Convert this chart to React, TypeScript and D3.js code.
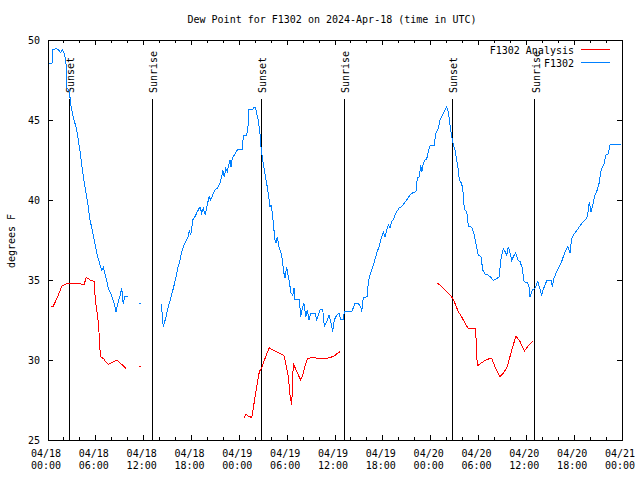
import React from "react";
import * as d3 from "d3";

// ---- data (hours since 2024-04-18 00:00 UTC, dew point °F) ----
const blueSeg1: [number, number][] = [
  [0.0, 48.55], [0.5, 48.55], [0.6, 49.4], [1.0, 49.45], [1.3, 49.4], [1.6, 49.2], [1.8, 49.4], [2.0, 49.2],
  [2.2, 48.8], [2.3, 48.3], [2.35, 47.0], [2.6, 46.9], [2.75, 46.5], [2.8, 46.1], [3.15, 45.2], [3.6, 44.4],
  [4.0, 43.1], [4.3, 41.9], [4.64, 40.8], [4.98, 39.8], [5.27, 38.75], [5.56, 38.1], [5.8, 37.5], [6.11, 36.7],
  [6.44, 36.1], [6.74, 35.6], [6.94, 35.8], [7.24, 35.2], [7.57, 34.5], [7.99, 34.0], [8.32, 33.5], [8.53, 33.0],
  [8.74, 33.5], [9.03, 34.0], [9.24, 34.5], [9.44, 33.5], [9.65, 34.0], [10.0, 34.0],
];
const blueLone: [number, number][] = [[11.54, 33.54]];
const blueSeg2: [number, number][] = [
  [14.17, 33.5], [14.3, 33.02], [14.46, 32.04], [14.59, 32.3], [14.8, 32.7], [15.09, 33.33], [15.39, 33.85],
  [15.72, 34.48], [16.02, 35.1], [16.27, 35.73], [16.56, 36.25], [16.77, 36.77], [17.06, 37.19], [17.4, 37.5],
  [17.6, 37.71], [17.72, 38.13], [17.9, 37.8], [18.03, 38.23], [18.15, 38.75], [18.44, 38.96], [18.73, 39.27],
  [19.07, 39.58], [19.28, 39.17], [19.48, 39.48], [19.73, 39.06], [19.98, 39.69], [20.2, 40.21], [20.41, 40.0],
  [20.66, 40.31], [20.95, 40.63], [21.24, 40.73], [21.58, 41.04], [21.79, 41.46], [21.91, 41.88], [22.12, 41.42],
  [22.29, 41.98], [22.49, 41.77], [22.67, 42.19], [22.83, 42.5], [22.96, 42.08], [23.12, 42.6], [23.37, 42.81],
  [23.58, 43.02], [23.87, 43.17], [24.37, 43.17], [24.5, 44.0], [24.92, 44.06], [25.13, 44.79], [25.21, 45.63],
  [25.63, 45.63], [25.75, 45.73], [25.97, 45.83], [26.09, 45.63], [26.25, 45.2], [26.38, 45.0], [26.59, 44.17],
  [26.72, 43.33], [26.88, 42.7], [27.13, 41.88], [27.43, 41.04], [27.63, 40.42], [27.85, 39.58], [27.97, 39.69],
  [28.14, 39.17], [28.26, 38.54], [28.47, 37.5], [28.6, 37.29], [28.76, 37.71], [28.98, 37.08], [29.23, 36.67],
  [29.39, 36.25], [29.6, 35.42], [29.73, 35.1], [29.94, 35.83], [30.07, 35.42], [30.27, 34.9], [30.48, 34.17],
  [30.7, 34.06], [30.86, 34.48], [30.98, 33.79], [31.52, 33.79], [31.7, 32.7], [31.9, 33.23], [32.11, 33.54],
  [32.33, 32.7], [32.53, 33.13], [32.74, 32.5], [32.95, 32.92], [33.49, 32.92], [33.71, 32.5], [34.12, 33.13],
  [34.46, 33.17], [34.66, 32.08], [34.96, 32.4], [35.25, 32.81], [35.5, 32.29], [35.71, 31.77], [35.91, 32.5],
  [36.21, 32.81], [36.5, 32.92], [36.75, 32.5], [37.04, 32.54], [37.17, 33.02], [38.1, 33.02], [38.51, 33.54],
  [38.92, 33.54], [39.22, 33.33], [39.35, 33.02], [39.55, 33.9], [40.05, 33.96], [40.18, 34.9], [40.39, 35.31],
  [40.68, 35.73], [40.93, 36.15], [41.23, 36.67], [41.52, 37.08], [41.77, 37.56], [42.06, 38.02], [42.27, 37.71],
  [42.49, 38.13], [42.69, 38.44], [42.9, 38.23], [43.11, 38.65], [43.31, 38.75], [43.53, 39.06], [43.74, 39.27],
  [44.07, 39.52], [44.37, 39.58], [44.66, 39.79], [44.99, 40.0], [45.41, 40.31], [45.82, 40.48], [46.16, 40.52],
  [46.32, 41.35], [46.57, 41.46], [46.75, 42.19], [46.88, 41.73], [47.08, 42.29], [47.29, 42.5], [47.5, 42.56],
  [47.7, 43.02], [47.92, 43.4], [48.42, 43.4], [48.67, 44.17], [48.96, 44.48], [49.17, 45.0], [49.39, 45.2],
  [49.59, 45.42], [49.8, 45.63], [50.01, 45.83], [50.21, 45.52], [50.43, 44.69], [50.64, 43.96], [50.84, 43.44],
  [51.05, 43.13], [51.27, 42.5], [51.47, 41.88], [51.59, 41.25], [51.89, 41.04], [52.09, 40.42], [52.22, 39.42],
  [52.52, 39.27], [52.72, 38.38], [53.15, 38.29], [53.47, 37.81], [53.78, 36.98], [53.98, 36.56], [54.31, 36.46],
  [54.53, 35.63], [54.82, 35.38], [55.23, 35.31], [55.66, 35.1], [55.86, 34.96], [56.07, 35.04], [56.57, 35.17],
  [56.82, 36.29], [57.11, 36.98], [57.33, 36.77], [57.54, 36.56], [57.74, 37.08], [57.95, 36.71], [58.17, 36.21],
  [58.37, 36.46], [58.67, 36.71], [58.92, 36.25], [59.21, 36.15], [59.5, 35.73], [59.71, 34.9], [60.17, 34.83],
  [60.34, 34.58], [60.46, 33.96], [60.75, 34.38], [61.09, 34.48], [61.43, 34.9], [61.63, 34.58], [61.93, 34.06],
  [62.13, 34.42], [62.56, 34.96], [63.1, 34.96], [63.26, 34.58], [63.47, 35.1], [63.72, 35.42], [64.01, 35.73],
  [64.35, 36.04], [64.64, 36.46], [64.85, 36.77], [65.19, 37.08], [65.48, 36.67], [65.69, 37.6], [65.89, 37.81],
  [66.23, 38.02], [66.52, 38.23], [66.82, 38.44], [67.15, 38.65], [67.57, 38.85], [67.78, 39.38], [67.9, 39.9],
  [68.11, 39.27], [68.33, 39.69], [68.61, 40.31], [68.9, 40.63], [69.12, 41.04], [69.33, 41.77], [69.46, 41.98],
  [69.78, 42.29], [69.96, 42.81], [70.29, 42.88], [70.5, 43.44], [71.88, 43.44],
];

const redSeg1: [number, number][] = [
  [0.38, 33.33], [0.66, 33.37], [0.88, 33.6], [1.29, 34.06], [1.72, 34.6], [2.13, 34.73], [2.55, 34.79],
  [4.01, 34.79], [4.23, 34.73], [4.55, 34.73], [4.77, 35.14], [5.06, 35.1], [5.27, 35.0], [5.6, 34.94],
  [5.81, 34.9], [5.93, 33.75], [6.18, 32.9], [6.36, 32.08], [6.44, 31.35], [6.52, 30.63], [6.65, 30.17],
  [6.94, 30.1], [7.24, 29.9], [7.56, 29.73], [7.99, 29.83], [8.62, 30.0], [9.03, 29.83], [9.44, 29.63], [9.75, 29.48],
];
const redLone: [number, number][] = [[11.54, 29.58]];
const redSeg2: [number, number][] = [
  [24.62, 26.4], [24.8, 26.6], [25.13, 26.5], [25.55, 26.4], [25.75, 26.98], [25.97, 27.7], [26.18, 28.33],
  [26.51, 29.27], [26.81, 29.54], [27.31, 30.21], [27.76, 30.77], [28.06, 30.67], [28.47, 30.56], [29.1, 30.42],
  [29.6, 30.27], [29.73, 30.0], [30.14, 28.96], [30.36, 27.81], [30.57, 27.19], [30.77, 29.79], [30.98, 29.54],
  [31.4, 29.06], [31.7, 28.75], [31.95, 29.06], [32.24, 29.63], [32.58, 30.1], [33.08, 30.15], [34.03, 30.1],
  [34.96, 30.1], [35.37, 30.15], [35.91, 30.25], [36.21, 30.38], [36.63, 30.52],
];
const redSeg3: [number, number][] = [
  [48.76, 34.83], [49.17, 34.69], [49.8, 34.38], [50.43, 34.06], [50.76, 33.85], [51.05, 33.54], [51.47, 33.02],
  [51.89, 32.7], [52.31, 32.29], [52.72, 31.98], [53.56, 31.98], [53.69, 31.35], [53.85, 29.63], [54.4, 29.83],
  [55.03, 30.04], [55.66, 30.1], [56.07, 29.58], [56.7, 28.96], [57.11, 29.17], [57.61, 29.58], [58.17, 30.63],
  [58.71, 31.5], [59.21, 31.15], [59.75, 30.56], [60.25, 30.88], [60.88, 31.21],
];

const sunHours = [2.65, 13.06, 26.74, 37.17, 50.72, 61.08];
const sunLabels = ["Sunset", "Sunrise", "Sunset", "Sunrise", "Sunset", "Sunrise"];
const yTicks = [25, 30, 35, 40, 45, 50];
const legendLabels = ["F1302 Analysis", "F1302"];
const title = "Dew Point for F1302 on 2024-Apr-18 (time in UTC)";
const yLabel = "degrees F";

const START = Date.UTC(2024, 3, 18, 0, 0);
const END = Date.UTC(2024, 3, 21, 0, 0);
const toDate = (h: number) => new Date(START + h * 3600e3);

const RED = "#ff0000";
const BLUE = "#0080ff";
const FONT = "'DejaVu Sans Mono', 'Liberation Mono', monospace";

export default function App() {
  const L = 48, R = 622, T = 40, B = 440;
  const x = d3.scaleUtc().domain([new Date(START), new Date(END)]).range([L, R]);
  const y = d3.scaleLinear().domain([25, 50]).range([B, T]);
  const line = d3
    .line<[number, number]>()
    .x((d) => x(toDate(d[0])))
    .y((d) => y(d[1]));

  const majorTicks = x.ticks(d3.utcHour.every(6)!);
  const minorTicks = x.ticks(d3.utcHour.every(2)!);
  const fmtDate = d3.utcFormat("%m/%d");
  const fmtTime = d3.utcFormat("%H:%M");

  const lone = (pts: [number, number][], color: string) =>
    pts.map((d, i) => (
      <line key={i} x1={x(toDate(d[0])) - 0.5} x2={x(toDate(d[0])) + 1.5}
        y1={y(d[1])} y2={y(d[1])} stroke={color} strokeWidth={1} />
    ));

  return (
    <div style={{ position: "fixed", left: 0, top: 0 }}>
      <svg width={640} height={480} style={{ display: "block", background: "#fff" }} fontFamily={FONT} fontSize={10}>
        <rect x={0} y={0} width={640} height={480} fill="#fff" />
        {/* title */}
        <text x={332} y={23} textAnchor="middle" fill="#000">{title}</text>
        {/* y label */}
        <text transform="translate(15,241) rotate(-90)" textAnchor="middle" fill="#000">{yLabel}</text>

        {/* x ticks */}
        <g shapeRendering="crispEdges" stroke="#000">
          {minorTicks.map((t, i) => (
            <g key={"m" + i}>
              <line x1={x(t)} x2={x(t)} y1={B} y2={B - 3} />
              <line x1={x(t)} x2={x(t)} y1={T} y2={T + 3} />
            </g>
          ))}
          {majorTicks.map((t, i) => (
            <g key={"M" + i}>
              <line x1={x(t)} x2={x(t)} y1={B} y2={B - 5} />
              <line x1={x(t)} x2={x(t)} y1={T} y2={T + 5} />
            </g>
          ))}
          {yTicks.map((v, i) => (
            <g key={"y" + i}>
              <line x1={L} x2={L + 5} y1={y(v)} y2={y(v)} />
              <line x1={R} x2={R - 5} y1={y(v)} y2={y(v)} />
            </g>
          ))}
        </g>
        {majorTicks.map((t, i) => (
          <g key={"xl" + i}>
            <text x={x(t) - 2} y={457} textAnchor="middle" fill="#000">{fmtDate(t)}</text>
            <text x={x(t) - 2} y={469} textAnchor="middle" fill="#000">{fmtTime(t)}</text>
          </g>
        ))}
        {yTicks.map((v, i) => (
          <text key={"yl" + i} x={40} y={y(v) + 3.5} textAnchor="end" fill="#000">{v}</text>
        ))}

        {/* sunrise / sunset */}
        {sunHours.map((h, i) => {
          const sx = x(toDate(h));
          return (
            <g key={"s" + i}>
              <line x1={sx} x2={sx} y1={99} y2={B} stroke="#000" strokeWidth={1} shapeRendering="crispEdges" />
              <text transform={`translate(${sx + 5},93) rotate(-90)`} textAnchor="start" fill="#000">{sunLabels[i]}</text>
            </g>
          );
        })}

        {/* data */}
        <g fill="none" strokeWidth={1} shapeRendering="crispEdges">
          {[redSeg1, redSeg2, redSeg3].map((s, i) => (
            <path key={"r" + i} d={line(s)!} stroke={RED} />
          ))}
          {[blueSeg1, blueSeg2].map((s, i) => (
            <path key={"b" + i} d={line(s)!} stroke={BLUE} />
          ))}
          {lone(redLone, RED)}
          {lone(blueLone, BLUE)}
        </g>

        {/* legend */}
        <text x={574} y={54} textAnchor="end" fill="#000">{legendLabels[0]}</text>
        <line x1={581} x2={610} y1={49.5} y2={49.5} stroke={RED} strokeWidth={1} />
        <text x={574} y={66.5} textAnchor="end" fill="#000">{legendLabels[1]}</text>
        <line x1={581} x2={610} y1={62.5} y2={62.5} stroke={BLUE} strokeWidth={1} />

        {/* frame */}
        <rect x={L} y={T} width={R - L} height={B - T} fill="none" stroke="#000" strokeWidth={1} shapeRendering="crispEdges" />
      </svg>
    </div>
  );
}
